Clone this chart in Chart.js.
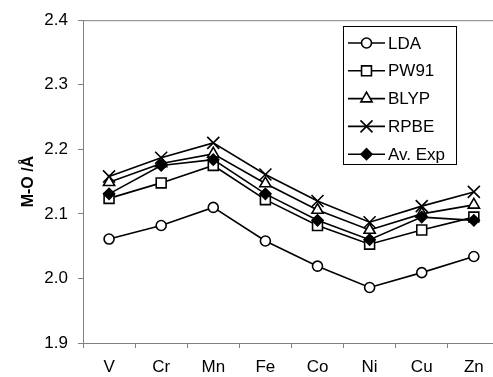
<!DOCTYPE html>
<html>
<head>
<meta charset="utf-8">
<script src="https://cdn.jsdelivr.net/npm/chart.js@4/dist/chart.umd.min.js"></script>
<style>
  html, body { margin: 0; padding: 0; background: #fff; overflow: hidden; }
  #wrap { width: 510px; height: 377px; }
</style>
</head>
<body>
<div id="wrap"><canvas id="chart" width="510" height="377"></canvas></div>
<script>
// ── Data ────────────────────────────────────────────
const metals = ['V', 'Cr', 'Mn', 'Fe', 'Co', 'Ni', 'Cu', 'Zn'];
const lda   = [2.061, 2.082, 2.110, 2.058, 2.019, 1.986, 2.009, 2.034];
const pw91  = [2.124, 2.148, 2.175, 2.122, 2.082, 2.053, 2.075, 2.095];
const blyp  = [2.149, 2.178, 2.193, 2.147, 2.106, 2.075, 2.100, 2.114];
const rpbe  = [2.158, 2.187, 2.210, 2.161, 2.120, 2.087, 2.112, 2.134];
const avExp = [2.131, 2.175, 2.184, 2.131, 2.090, 2.060, 2.095, 2.090];
const yTicks = [1.9, 2.0, 2.1, 2.2, 2.3, 2.4];

const FONT = "'Liberation Sans', Arial, sans-serif";
const AXIS_GRAY = '#808080';

function series(label, data, style, radius, fill, order) {
    return {
        label: label,
        data: data,
        borderColor: '#000',
        borderWidth: 1.6,
        pointStyle: style,
        pointRadius: radius,
        pointBorderColor: '#000',
        pointBorderWidth: 1.6,
        pointBackgroundColor: fill,
        fill: false,
        tension: 0,
        order: order,
    };
}

// legend box drawn by hand: line + marker + text, like the original
const boxLegend = {
    id: 'boxLegend',
    afterDraw(chart) {
        const ctx = chart.ctx;
        const area = chart.chartArea;
        ctx.save();
        // top frame line
        ctx.strokeStyle = AXIS_GRAY;
        ctx.lineWidth = 1;
        ctx.beginPath();
        ctx.moveTo(area.left, area.top + 0.5);
        ctx.lineTo(area.right, area.top + 0.5);
        ctx.stroke();

        const x0 = 343, y0 = 26, w = 113, h = 138;
        ctx.fillStyle = '#fff';
        ctx.fillRect(x0, y0, w, h);
        ctx.strokeStyle = '#000';
        ctx.strokeRect(x0 + 0.5, y0 + 0.5, w, h);

        ctx.font = '17px ' + FONT;
        ctx.textBaseline = 'middle';
        chart.data.datasets.forEach((ds, i) => {
            const y = 43 + i * 27.8;
            ctx.strokeStyle = '#000';
            ctx.lineWidth = ds.borderWidth;
            ctx.beginPath();
            ctx.moveTo(348, y);
            ctx.lineTo(385, y);
            ctx.stroke();
            ctx.fillStyle = ds.pointBackgroundColor;
            ctx.strokeStyle = '#000';
            ctx.lineWidth = ds.pointBorderWidth;
            Chart.helpers.drawPoint(ctx, {
                pointStyle: ds.pointStyle,
                radius: ds.pointRadius,
                rotation: 0,
                borderWidth: ds.pointBorderWidth,
            }, 366.5, y);
            ctx.fillStyle = '#000';
            ctx.fillText(ds.label, 388, y + 1);
        });
        ctx.restore();
    }
};

new Chart(document.getElementById('chart'), {
    type: 'line',
    data: {
        labels: metals,
        datasets: [
            series('LDA', lda, 'circle', 5, '#fff', 1),
            series('PW91', pw91, 'rect', 7, '#fff', 1),
            series('BLYP', blyp, 'triangle', 6.5, '#fff', 1),
            series('RPBE', rpbe, 'crossRot', 8.5, '#fff', 1),
            series('Av. Exp', avExp, 'rectRot', 5.5, '#000', 0),
        ],
    },
    options: {
        responsive: false,
        animation: false,
        layout: { padding: { top: 20, right: 9, bottom: 0, left: 0 } },
        plugins: {
            legend: { display: false },
            tooltip: { enabled: false },
        },
        scales: {
            x: {
                offset: true,
                grid: {
                    offset: true,
                    drawOnChartArea: false,
                    drawTicks: true,
                    tickLength: 5,
                    color: AXIS_GRAY,
                },
                border: { display: true, color: AXIS_GRAY, width: 1 },
                ticks: {
                    color: '#000',
                    font: { family: FONT, size: 17 },
                    padding: 9,
                    maxRotation: 0,
                },
                afterFit(scale) { scale.height = 34; },
            },
            y: {
                min: 1.9,
                max: 2.4,
                afterBuildTicks(scale) {
                    scale.ticks = yTicks.map(v => ({ value: v }));
                },
                grid: {
                    drawOnChartArea: false,
                    drawTicks: true,
                    tickLength: 5,
                    color: AXIS_GRAY,
                },
                border: { display: true, color: AXIS_GRAY, width: 1 },
                ticks: {
                    color: '#000',
                    font: { family: FONT, size: 17 },
                    padding: 10,
                    callback: v => Number(v).toFixed(1),
                },
                title: {
                    display: true,
                    text: 'M-O /Å',
                    color: '#000',
                    font: { family: FONT, size: 16, weight: 'bold' },
                    padding: { top: 19, bottom: 0 },
                },
                afterFit(scale) { scale.width = 83; },
            },
        },
    },
    plugins: [boxLegend],
});
</script>
</body>
</html>
